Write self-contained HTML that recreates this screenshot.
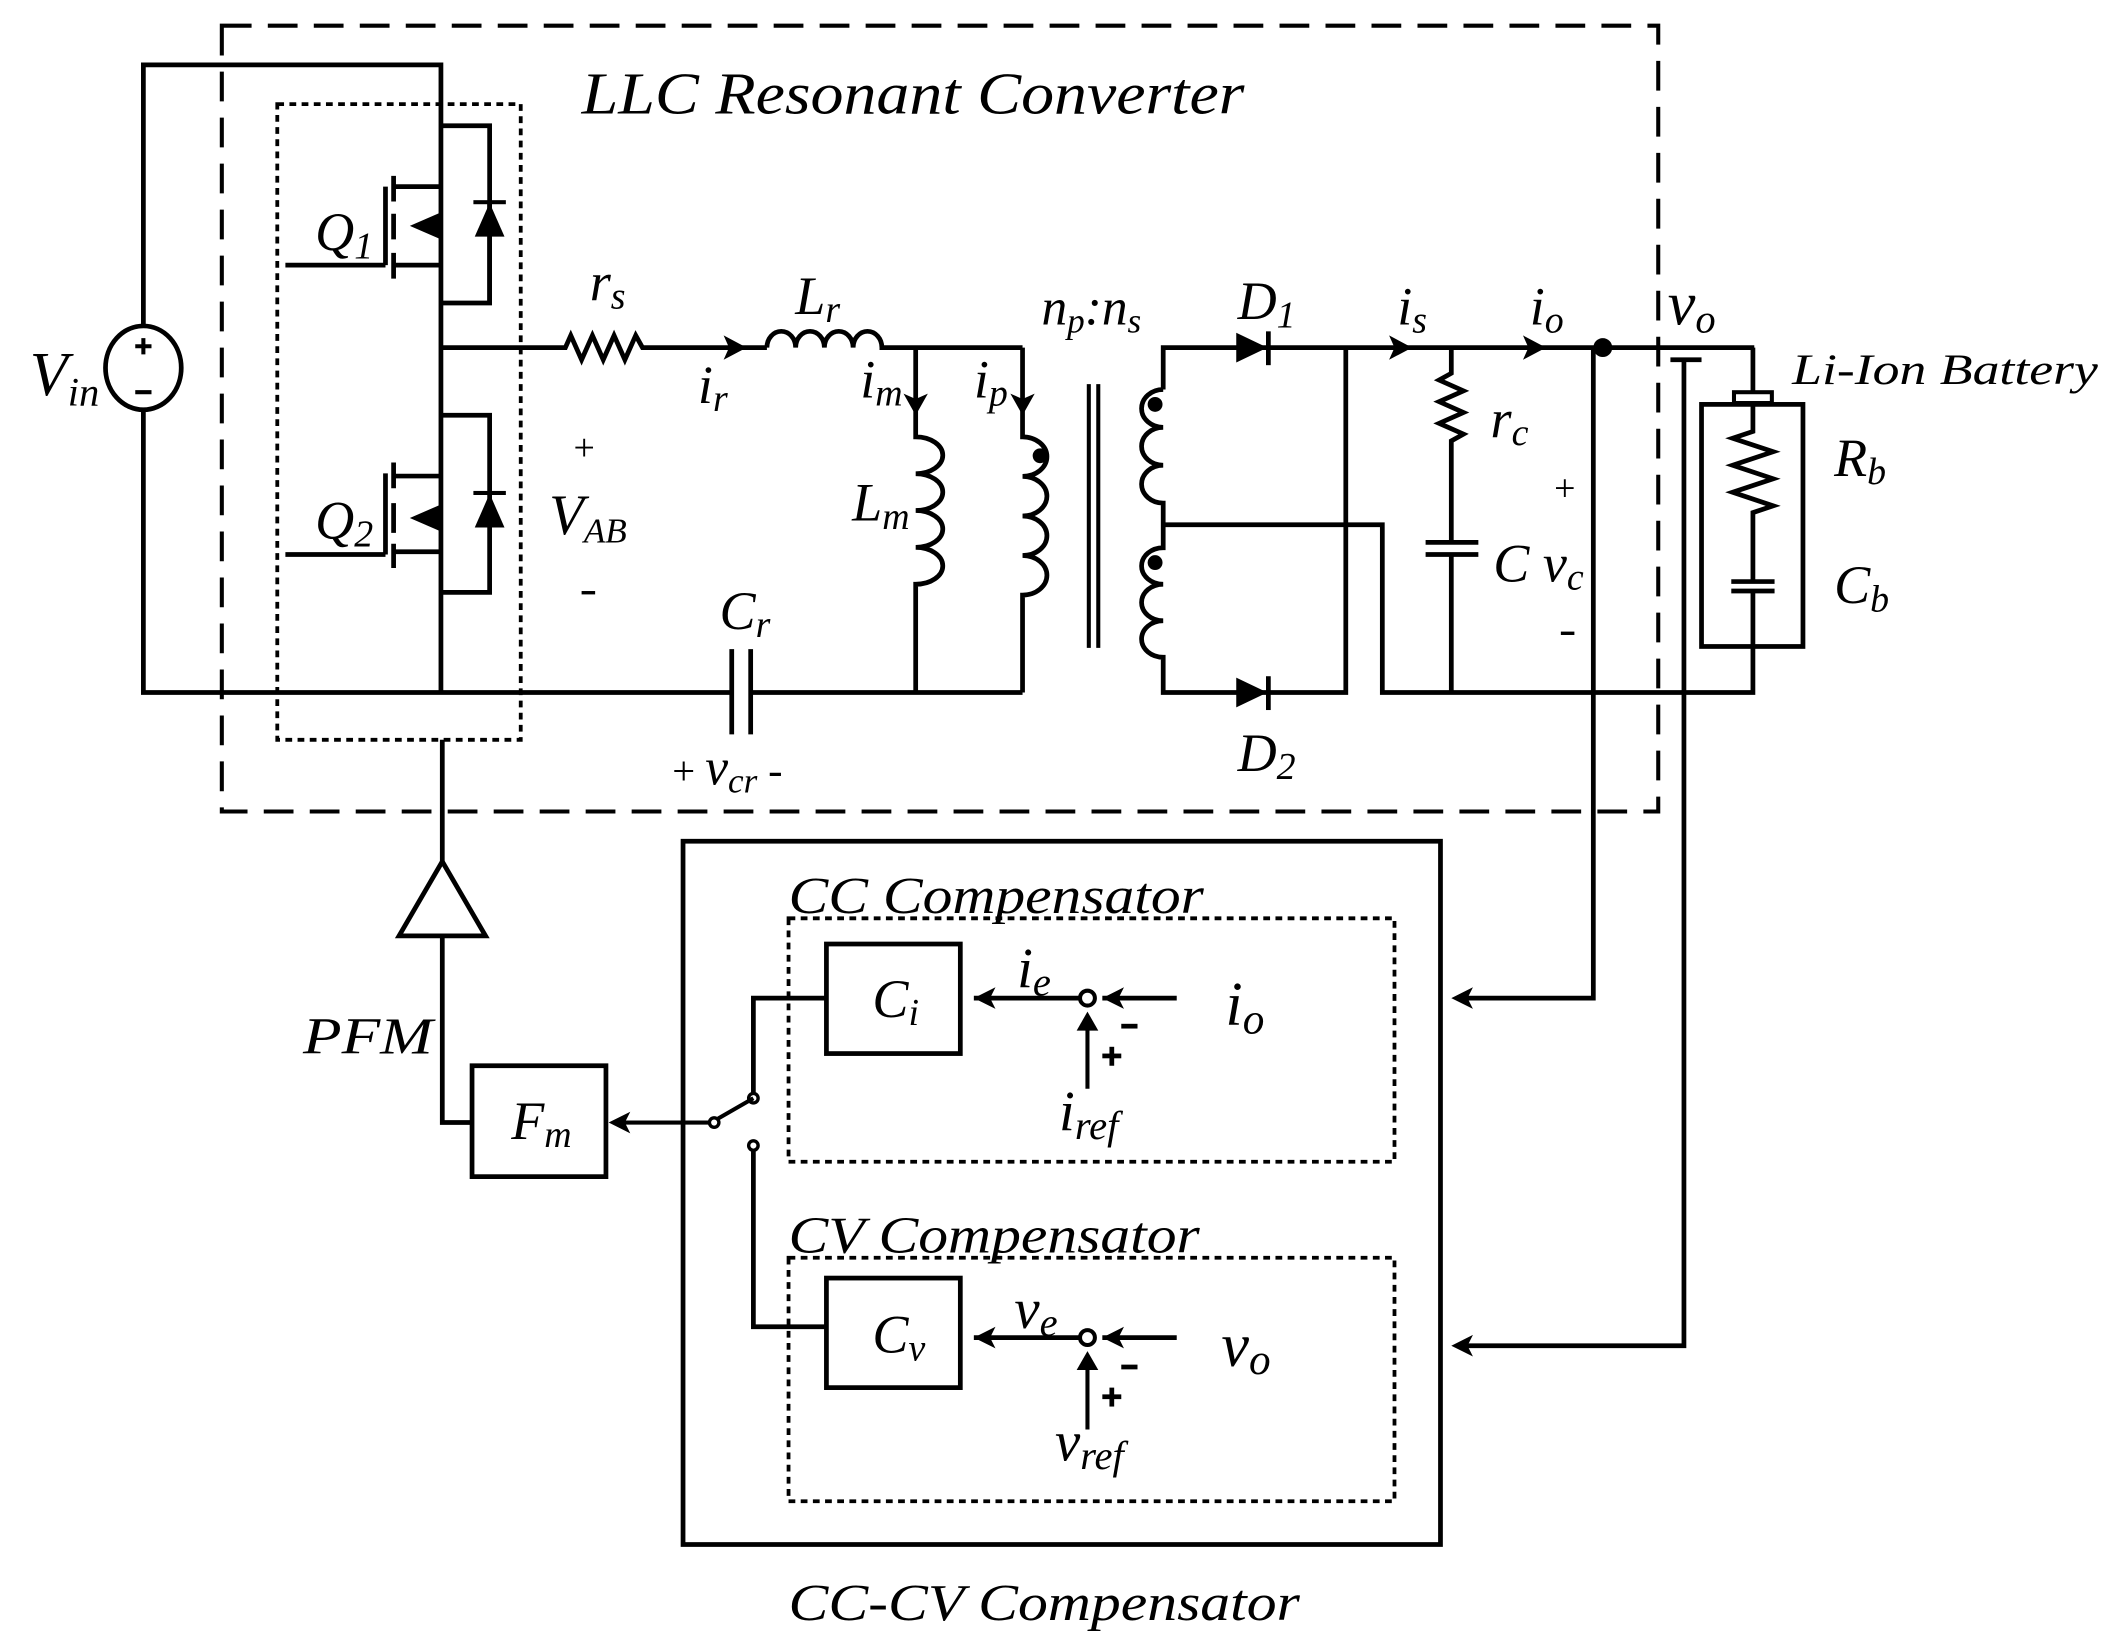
<!DOCTYPE html>
<html><head><meta charset="utf-8"><style>
html,body{margin:0;padding:0;background:#fff;font-family:"Liberation Serif","Times New Roman",serif;}
svg{display:block;}
svg text, svg tspan{font-family:"Liberation Serif","Times New Roman",Times,serif !important;}
text{font-style:italic;fill:#000;}
.s{font-style:normal;}
</style></head><body>
<svg width="2110" height="1650" viewBox="0 0 1560 1220" preserveAspectRatio="none" xmlns="http://www.w3.org/2000/svg" font-family="Liberation Serif, Times New Roman, serif">
<g fill="none" stroke="#000" stroke-width="3.5" stroke-linejoin="miter">
<rect x="164" y="19" width="1062" height="581" stroke-width="3" stroke-dasharray="22,12"/>
<rect x="205" y="77" width="180" height="470" stroke-width="2.8" stroke-dasharray="5,4"/>
<path d="M106 241 V48 H326 V512 M106 303 V512 H541 M555 512 H756"/>
<ellipse cx="106" cy="272" rx="28" ry="31"/>
<path d="M100 256 h12 M106 250 v12 M100 290 h12" stroke-width="3"/>
<path d="M326 93 H362 V224 H326"/>
<path d="M291 130 V149 M291 158 V177 M291 187 V206"/>
<path d="M285 138 V196 M211 196 H285 M291 138 H326 M291 196 H326 M310 167 H326"/>
<path d="M362 150 V224"/>
<path d="M326 307 H362 V438 H326"/>
<path d="M291 342 V361 M291 372 V394 M291 402 V420"/>
<path d="M285 350 V410 M211 410 H285 M291 352 H326 M291 408 H326 M310 383 H326"/>
<path d="M327 547 V637 M327 692 V830 H349"/>
<path d="M295 692 L327 637 L359 692 Z"/>
<path d="M326 257 H418 l4 -9 l8 18 l8 -18 l8 18 l8 -18 l8 18 l8 -18 l5 9 H567"/>
<path d="M567 257 a10.6 12 0 0 1 21.25 0 a10.6 12 0 0 1 21.25 0 a10.6 12 0 0 1 21.25 0 a10.6 12 0 0 1 21.25 0 H756"/>
<path d="M677 257 V323 a20 13.6 0 0 1 0 27.25 a20 13.6 0 0 1 0 27.25 a20 13.6 0 0 1 0 27.25 a20 13.6 0 0 1 0 27.25 V512"/>
<path d="M756 257 V323 a18 14.6 0 0 1 0 29.25 a18 14.6 0 0 1 0 29.25 a18 14.6 0 0 1 0 29.25 a18 14.6 0 0 1 0 29.25 V512"/>
<path d="M541 480 V543 M555 480 V543"/>
<path d="M805 284 V479 M812 284 V479" stroke-width="3"/>
<path d="M860 288 V257 H1297 M860 288 a16 14 0 0 0 0 28 a16 14 0 0 0 0 28 a16 14 0 0 0 0 28 V405 a16 13.5 0 0 0 0 27 a16 13.5 0 0 0 0 27 a16 13.5 0 0 0 0 27 V512 H995 V257"/>
<path d="M860 388 H1022 V512 H1296 V478"/>
<path d="M1073 257 V276 l-9 5 l18 8 l-18 8 l18 8 l-18 8 l18 8 l-9 5 V401 M1073 410 V512"/>
<path d="M1054 401 H1093 M1054 410 H1093"/>
<path d="M1178 257 V738 H1078"/>
<path d="M1245 266 V995 H1078"/>
<path d="M1235 266 H1258"/>
<path d="M1296 257 V290"/>
<rect x="1282" y="290" width="28" height="8" stroke-width="3"/>
<rect x="1258" y="299" width="75" height="179"/>
<path d="M1296 299 V319 l-15 5 l30 10 l-30 10 l30 10 l-30 10 l30 10 l-15 5 V430 M1296 437 V478"/>
<path d="M1280 430 H1312 M1280 437 H1312"/>
<rect x="505" y="622" width="560" height="520"/>
<rect x="583" y="679" width="448" height="180" stroke-width="2.8" stroke-dasharray="5,4"/>
<rect x="583" y="930" width="448" height="180" stroke-width="2.8" stroke-dasharray="5,4"/>
<rect x="611" y="698" width="99" height="81"/>
<rect x="611" y="945" width="99" height="81"/>
<rect x="349" y="788" width="99" height="82"/>
<path d="M870 738 H815 M799 738 H720"/>
<path d="M870 989 H815 M799 989 H720"/>
<path d="M804 805 V752 M804 1057 V1003" stroke-width="3"/>
<circle cx="804" cy="738" r="5.5" stroke-width="3"/>
<circle cx="804" cy="989" r="5.5" stroke-width="3"/>
<path d="M611 738 H557 V808 M557 851 V981 H611"/>
<path d="M524 830 H458 M531 827 L557 812" stroke-width="3"/>
<circle cx="528" cy="830" r="3.5" stroke-width="2.5"/>
<circle cx="557" cy="812" r="3.5" stroke-width="2.5"/>
<circle cx="557" cy="847" r="3.5" stroke-width="2.5"/>
</g>
<g fill="#000" stroke="none">
<path d="M303 167 L326 157 L326 177 Z"/>
<path d="M303 383 L326 373 L326 393 Z"/>
<path d="M351 175 L373 175 L362 150 Z"/><rect x="350" y="148" width="24" height="3"/>
<path d="M351 390 L373 390 L362 365 Z"/><rect x="350" y="363" width="24" height="3"/>
<path d="M914 246 L937 257 L914 268 Z"/><rect x="936" y="245" width="3.5" height="25"/>
<path d="M914 501 L937 512 L914 523 Z"/><rect x="936" y="500" width="3.5" height="25"/>
<path d="M552 257 L535 248 L539 257 L535 266 Z"/>
<path d="M1044 257 L1027 248 L1031 257 L1027 266 Z"/>
<path d="M1143 257 L1126 248 L1130 257 L1126 266 Z"/>
<path d="M677 307 L668 291 L677 295 L686 291 Z"/>
<path d="M756 307 L747 291 L756 295 L765 291 Z"/>
<circle cx="1185" cy="257" r="7"/>
<circle cx="769" cy="337" r="5.5"/>
<circle cx="854" cy="299" r="5.5"/>
<circle cx="854" cy="416" r="5.5"/>
<path d="M720 738 L736 730 L732 738 L736 746 Z"/>
<path d="M720 989 L736 981 L732 989 L736 997 Z"/>
<path d="M815 738 L831 730 L827 738 L831 746 Z"/>
<path d="M815 989 L831 981 L827 989 L831 997 Z"/>
<path d="M804 748 L796 762 L812 762 Z"/>
<path d="M804 999 L796 1013 L812 1013 Z"/>
<path d="M1073 738 L1089 730 L1085 738 L1089 746 Z"/>
<path d="M1073 995 L1089 987 L1085 995 L1089 1003 Z"/>
<path d="M450 830 L466 822 L462 830 L466 838 Z"/>
<!-- sum signs as shapes -->
<rect x="829" y="757" width="12" height="3.5"/>
<rect x="815" y="779" width="14" height="3.5"/><rect x="820.25" y="774" width="3.5" height="14"/>
<rect x="829" y="1009" width="12" height="3.5"/>
<rect x="815" y="1031" width="14" height="3.5"/><rect x="820.25" y="1026" width="3.5" height="14"/>
<rect x="430" y="437" width="10" height="2.5"/>
<rect x="1154" y="467" width="10" height="2.5"/>
</g>
<g font-size="28">
<text class="s" x="424" y="340">+</text>
<text class="s" x="1149" y="370">+</text>
</g>
<text x="430" y="84" font-size="44" textLength="490" lengthAdjust="spacingAndGlyphs">LLC Resonant Converter</text>
<text x="22" y="292" font-size="46">V<tspan font-size="30" dy="8">in</tspan></text>
<text x="233" y="185" font-size="40">Q<tspan font-size="28" dy="6">1</tspan></text>
<text x="233" y="398" font-size="40">Q<tspan font-size="28" dy="6">2</tspan></text>
<text x="436" y="222" font-size="40">r<tspan font-size="28" dy="6">s</tspan></text>
<text x="588" y="232" font-size="40">L<tspan font-size="28" dy="6">r</tspan></text>
<text x="516" y="298" font-size="40">i<tspan font-size="28" dy="6">r</tspan></text>
<text x="636" y="294" font-size="40">i<tspan font-size="28" dy="6">m</tspan></text>
<text x="720" y="294" font-size="40">i<tspan font-size="28" dy="6">p</tspan></text>
<text x="630" y="385" font-size="40">L<tspan font-size="28" dy="6">m</tspan></text>
<text x="406" y="395" font-size="42">V<tspan font-size="26" dy="6">AB</tspan></text>
<text x="532" y="465" font-size="40">C<tspan font-size="28" dy="6">r</tspan></text>
<text x="497" y="580" font-size="38"><tspan class="s" font-size="30">+ </tspan>v<tspan font-size="26" dy="6">cr</tspan><tspan dy="-6" class="s" font-size="32"> -</tspan></text>
<text x="770" y="240" font-size="38">n<tspan font-size="26" dy="6">p</tspan><tspan dy="-6">:n</tspan><tspan font-size="26" dy="6">s</tspan></text>
<text x="915" y="236" font-size="40">D<tspan font-size="28" dy="6">1</tspan></text>
<text x="915" y="570" font-size="40">D<tspan font-size="28" dy="6">2</tspan></text>
<text x="1033" y="240" font-size="40">i<tspan font-size="28" dy="6">s</tspan></text>
<text x="1131" y="240" font-size="40">i<tspan font-size="28" dy="6">o</tspan></text>
<text x="1233" y="240" font-size="46">v<tspan font-size="30" dy="6">o</tspan></text>
<text x="1325" y="284" font-size="32" textLength="226" lengthAdjust="spacingAndGlyphs">Li-Ion Battery</text>
<text x="1102" y="323" font-size="40">r<tspan font-size="28" dy="6">c</tspan></text>
<text x="1356" y="352" font-size="40">R<tspan font-size="28" dy="6">b</tspan></text>
<text x="1104" y="430" font-size="40">C v<tspan font-size="28" dy="6">c</tspan></text>
<text x="1356" y="446" font-size="40">C<tspan font-size="28" dy="6">b</tspan></text>
<text x="224" y="779" font-size="38" textLength="96" lengthAdjust="spacingAndGlyphs">PFM</text>
<text x="378" y="842" font-size="40">F<tspan font-size="28" dy="6">m</tspan></text>
<text x="645" y="752" font-size="40">C<tspan font-size="28" dy="6">i</tspan></text>
<text x="645" y="1000" font-size="40">C<tspan font-size="28" dy="6">v</tspan></text>
<text x="752" y="730" font-size="42">i<tspan font-size="30" dy="6">e</tspan></text>
<text x="750" y="982" font-size="42">v<tspan font-size="30" dy="6">e</tspan></text>
<text x="906" y="758" font-size="46">i<tspan font-size="32" dy="6">o</tspan></text>
<text x="903" y="1010" font-size="46">v<tspan font-size="32" dy="6">o</tspan></text>
<text x="783" y="836" font-size="42">i<tspan font-size="30" dy="6">ref</tspan></text>
<text x="780" y="1080" font-size="42">v<tspan font-size="30" dy="6">ref</tspan></text>
<text x="583" y="675" font-size="38" textLength="307" lengthAdjust="spacingAndGlyphs">CC Compensator</text>
<text x="583" y="926" font-size="38" textLength="304" lengthAdjust="spacingAndGlyphs">CV Compensator</text>
<text x="583" y="1198" font-size="38" textLength="378" lengthAdjust="spacingAndGlyphs">CC-CV Compensator</text>
</svg>
</body></html>
